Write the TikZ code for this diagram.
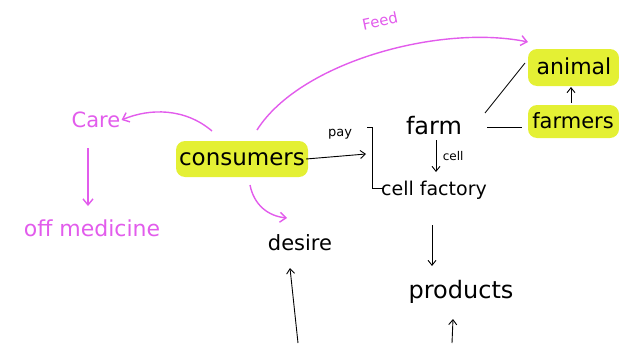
\documentclass[tikz,border=0pt]{standalone}
\usepackage{fontspec}
\setmainfont{DejaVu Sans}
\usetikzlibrary{arrows.meta}
\definecolor{pinkc}{RGB}{226,92,236}
\definecolor{hiyel}{RGB}{228,240,52}
\begin{document}
\begin{tikzpicture}[x=1pt,y=-1pt,
  word/.style={inner sep=1pt, font=\fontsize{21}{22}\selectfont},
  pword/.style={word, text=pinkc},
  hl/.style={fill=hiyel, rounded corners=9pt, draw=none},
  blk/.style={draw=black, line width=0.9pt, -{Straight Barb[length=5pt,width=8pt]}},
  pk/.style={draw=pinkc, line width=1.4pt, -{Straight Barb[length=6pt,width=10pt]}},
  plain/.style={draw=black, line width=0.8pt}]
\useasboundingbox (0,0) rectangle (619,343);
% highlights
\fill[hl] (176,141) rectangle (308,177);
\fill[hl] (528,49) rectangle (619,86);
\fill[hl] (528,105) rectangle (619,138);
% nodes
\node[word, font=\fontsize{23}{24}\selectfont] (consumers) at (242,159) {consumers};
\node[word, font=\fontsize{22}{23}\selectfont] (animal) at (574,66) {animal};
\node[word, font=\fontsize{21}{22}\selectfont] (farmers) at (573,121) {farmers};
\node[word, font=\fontsize{24}{25}\selectfont] (farm) at (434,126) {farm};
\node[word, font=\fontsize{19}{20}\selectfont] (cellfactory) at (434,190) {cell factory};
\node[word, font=\fontsize{21}{22}\selectfont] (desire) at (300,243) {desire};
\node[word, font=\fontsize{24}{25}\selectfont] (products) at (461,292) {products};
\node[pword, font=\fontsize{21}{22}\selectfont] (care) at (96,120) {Care};
\node[pword, font=\fontsize{22}{23}\selectfont] (offmed) at (92,228) {off medicine};
\node[text=pinkc, font=\fontsize{15}{16}\selectfont, rotate=12, inner sep=0pt] (feed) at (380,21) {Feed};
\node[font=\fontsize{13}{14}\selectfont] (pay) at (340,134) {pay};
% bracket
\coordinate (bt) at (372,127);
\coordinate (bb) at (372,188);
\draw[plain] (367,127) -- (bt) -- (bb) -- (384,188);
% connectors
\coordinate (payend) at (366,154);
\draw[blk] (consumers.east) -- (payend);
\coordinate (cellstart) at (436,140);
\coordinate (cellend) at (436,172);
\draw[blk] (cellstart) -- (cellend) node[midway, right=3pt, font=\fontsize{12}{13}\selectfont] (celllabel) {cell};
\coordinate (fa1) at (485,113);
\coordinate (fa2) at (525,63);
\draw[plain] (fa1) -- (fa2);
\coordinate (ff1) at (487,127);
\coordinate (ff2) at (522,127);
\draw[plain] (ff1) -- (ff2);
\coordinate (fr1) at (571,103);
\coordinate (fr2) at (571,87);
\draw[blk] (fr1) -- (fr2);
\coordinate (cp1) at (432,225);
\coordinate (cp2) at (432,266);
\draw[blk] (cp1) -- (cp2);
\coordinate (lp1) at (298,343);
\coordinate (lp2) at (290,268);
\draw[blk] (lp1) -- (lp2);
\coordinate (rp1) at (452,343);
\coordinate (rp2) at (453,319);
\draw[blk] (rp1) -- (rp2);
\coordinate (fd1) at (257,130);
\coordinate (fd2) at (528,42);
\draw[pk] (fd1) .. controls (300,62) and (440,24) .. (fd2);
\coordinate (cr1) at (212,131);
\draw[pk] (cr1) .. controls (185,108) and (150,108) .. (care.east);
\coordinate (co1) at (88,148);
\coordinate (co2) at (88,206);
\draw[pk] (co1) -- (co2);
\coordinate (cd1) at (250,185);
\coordinate (cd2) at (287,218);
\draw[pk] (cd1) .. controls (254,205) and (268,216) .. (cd2);
\end{tikzpicture}
\end{document}
